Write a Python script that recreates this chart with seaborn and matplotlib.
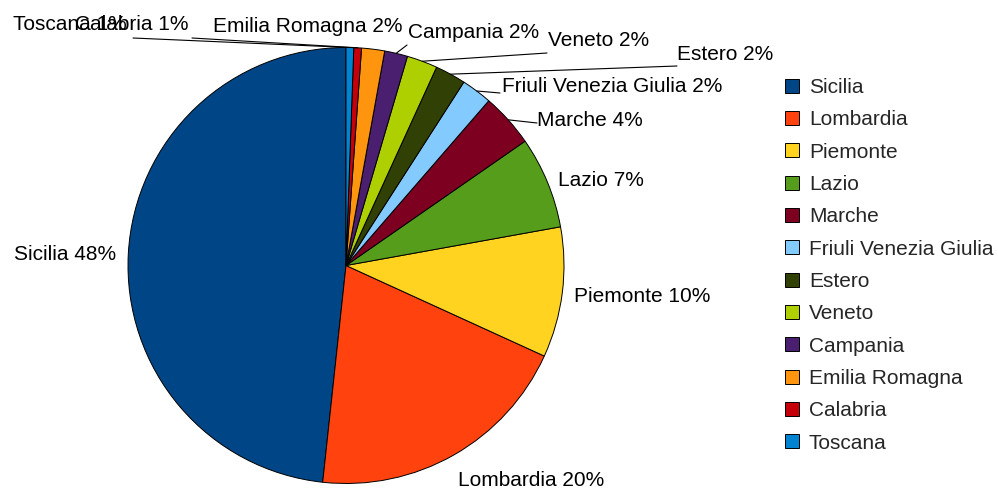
import matplotlib.pyplot as plt
import numpy as np
import seaborn as sns

# survey respondents by region (counts)
regions = [
    "Sicilia", "Lombardia", "Piemonte", "Lazio", "Marche",
    "Friuli Venezia Giulia", "Estero", "Veneto", "Campania",
    "Emilia Romagna", "Calabria", "Toscana",
]
counts = [85, 35, 17, 12, 7, 4, 4, 4, 3, 3, 1, 1]
colors = [
    "#004586", "#ff420e", "#ffd320", "#579d1c", "#7e0021", "#83caff",
    "#314004", "#aecf00", "#4b1f6f", "#ff950e", "#c5000b", "#0084d1",
]

W, H = 998, 488
CENTER = (346, H - 265.5)
RADIUS = 218

# text anchor (px from top-left), alignment, end of leader line (or None)
LABEL_LAYOUT = {
    "Sicilia": ((116, 255), "right", None),
    "Lombardia": ((458, 480), "left", None),
    "Piemonte": ((574, 297), "left", None),
    "Lazio": ((558, 180), "left", None),
    "Marche": ((537, 121), "left", (537, 123)),
    "Friuli Venezia Giulia": ((502, 87), "left", (500, 93)),
    "Estero": ((677, 54), "left", (677, 66)),
    "Veneto": ((548, 41), "left", (547, 53)),
    "Campania": ((408, 32), "left", (407, 45)),
    "Emilia Romagna": ((213, 27), "left", None),
    "Calabria": ((75, 25), "left", (192, 38)),
    "Toscana": ((13, 25), "left", (133, 38)),
}


def main() -> None:
    sns.set_style("white")
    plt.rcParams["font.family"] = ["Liberation Sans", "DejaVu Sans"]
    FONT_SIZE = 15

    fig = plt.figure(figsize=(W / 100, H / 100), dpi=100)
    ax = fig.add_axes([0, 0, 1, 1])

    wedges, _ = ax.pie(
        counts,
        colors=colors,
        startangle=90,
        counterclock=True,
        center=CENTER,
        radius=RADIUS,
        wedgeprops=dict(edgecolor="black", linewidth=0.7),
    )
    ax.set_xlim(0, W)
    ax.set_ylim(0, H)
    ax.set_aspect("equal")
    ax.axis("off")

    total = sum(counts)
    for wedge, name, n in zip(wedges, regions, counts):
        (tx, ty), ha, line_end = LABEL_LAYOUT[name]
        ax.text(
            tx, H - ty, f"{name} {100 * n / total:.0f}%",
            ha=ha, va="center", fontsize=FONT_SIZE, color="black",
            clip_on=False,
        )
        if line_end is not None:
            mid = np.deg2rad((wedge.theta1 + wedge.theta2) / 2)
            sx = CENTER[0] + RADIUS * np.cos(mid)
            sy = CENTER[1] + RADIUS * np.sin(mid)
            ax.plot(
                [sx, line_end[0]], [sy, H - line_end[1]],
                color="black", linewidth=0.8,
            )

    fig.legend(
        wedges, regions,
        loc="upper left",
        bbox_to_anchor=(785 / W, 1 - 78 / H),
        frameon=False,
        fontsize=FONT_SIZE,
        handlelength=0.67,
        handleheight=0.67,
        handletextpad=0.48,
        labelspacing=0.64,
        borderpad=0,
        borderaxespad=0,
    )

    fig.savefig("out.png", dpi=100)


if __name__ == "__main__":
    main()
